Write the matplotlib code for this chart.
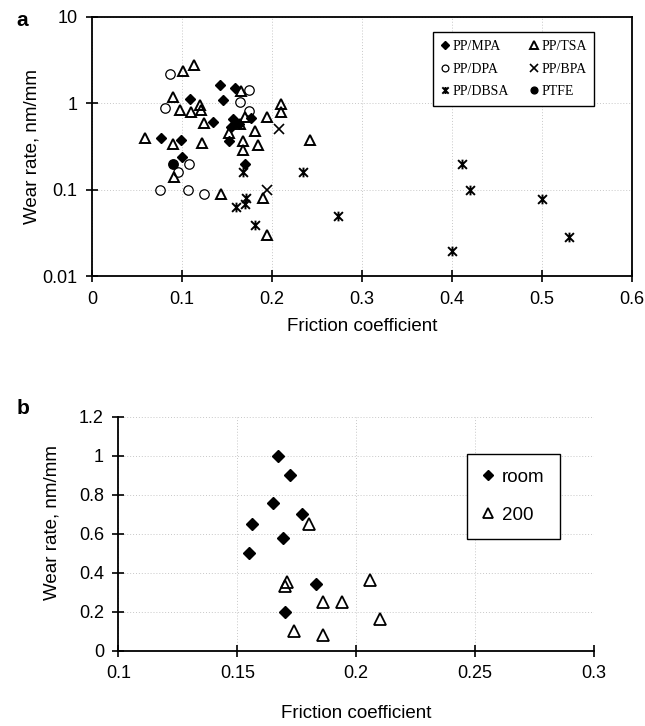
import matplotlib
matplotlib.use("Agg")
import matplotlib.pyplot as plt
from matplotlib.path import Path

# ---- panel a: wear rate vs friction coefficient, all compositions ----
mpa_x = [0.077, 0.0985, 0.100, 0.109, 0.135, 0.142, 0.146, 0.159, 0.152, 0.155, 0.157, 0.170, 0.163, 0.177]
mpa_y = [0.39, 0.37, 0.24, 1.11, 0.60, 1.62, 1.09, 1.51, 0.36, 0.53, 0.65, 0.20, 0.58, 0.68]

tsa_x = [0.101, 0.113, 0.090, 0.098, 0.110, 0.120, 0.121, 0.124, 0.059, 0.090, 0.122, 0.091, 0.143,
         0.166, 0.152, 0.164, 0.170, 0.168, 0.168, 0.181, 0.184, 0.194, 0.210, 0.210, 0.242, 0.190, 0.194]
tsa_y = [2.36, 2.77, 1.19, 0.83, 0.80, 0.95, 0.84, 0.59, 0.39, 0.34, 0.345, 0.14, 0.088,
         1.38, 0.45, 0.57, 0.70, 0.36, 0.29, 0.48, 0.33, 0.70, 0.98, 0.78, 0.37, 0.079, 0.030]

dpa_x = [0.087, 0.081, 0.164, 0.174, 0.175, 0.108, 0.096, 0.0756, 0.107, 0.124]
dpa_y = [2.2, 0.89, 1.02, 1.42, 0.81, 0.20, 0.16, 0.10, 0.10, 0.089]

bpa_x = [0.208, 0.194]
bpa_y = [0.50, 0.10]

dbsa_x = [0.168, 0.160, 0.171, 0.170, 0.181, 0.235, 0.273, 0.411, 0.420, 0.400, 0.500, 0.530]
dbsa_y = [0.16, 0.063, 0.079, 0.069, 0.039, 0.161, 0.049, 0.198, 0.099, 0.0196, 0.078, 0.0285]

ptfe_x = [0.0896]
ptfe_y = [0.20]

# ---- panel b: PP/MPA at room temperature vs 200 ----
room_x = [0.167, 0.172, 0.165, 0.177, 0.156, 0.169, 0.155, 0.170, 0.183]
room_y = [1.00, 0.90, 0.76, 0.70, 0.65, 0.58, 0.50, 0.20, 0.34]
hot_x = [0.180, 0.170, 0.171, 0.174, 0.186, 0.194, 0.206, 0.210, 0.186]
hot_y = [0.65, 0.33, 0.35, 0.10, 0.25, 0.25, 0.36, 0.16, 0.08]

sans = ["Liberation Sans", "DejaVu Sans"]
serif = ["Liberation Serif", "DejaVu Serif"]
plt.rcParams["font.family"] = sans

# excel-style asterisk: X with a vertical bar
star = Path([(-1, -1), (1, 1), (-1, 1), (1, -1), (0, -1.1), (0, 1.1)],
            [Path.MOVETO, Path.LINETO, Path.MOVETO, Path.LINETO, Path.MOVETO, Path.LINETO])

grid_kw = dict(color="#c8c8c8", linestyle=(0, (1, 2)), linewidth=0.7)

fig = plt.figure(figsize=(6.45, 7.26), dpi=100)

ax = fig.add_axes([0.1426, 0.6198, 0.8372, 0.3572])
ax.plot(mpa_x, mpa_y, ls="none", marker="D", ms=5.4, mfc="black", mec="black", label="PP/MPA")
ax.plot(dpa_x, dpa_y, ls="none", marker="o", ms=6.8, mfc="none", mec="black", mew=0.9, label="PP/DPA")
ax.plot(dbsa_x, dbsa_y, ls="none", marker=star, ms=7, mfc="none", mec="black", mew=1.4, label="PP/DBSA")
ax.plot(tsa_x, tsa_y, ls="none", marker="^", ms=7.5, mfc="none", mec="black", mew=1.4, label="PP/TSA")
ax.plot(bpa_x, bpa_y, ls="none", marker="x", ms=7.5, mec="black", mew=1.2, label="PP/BPA")
ax.plot(ptfe_x, ptfe_y, ls="none", marker="o", ms=6.8, mfc="black", mec="black", label="PTFE")
ax.set_yscale("log")
ax.set_xlim(0, 0.6)
ax.set_ylim(0.01, 10)
ax.set_xticks([0, 0.1, 0.2, 0.3, 0.4, 0.5, 0.6])
ax.set_xticklabels(["0", "0.1", "0.2", "0.3", "0.4", "0.5", "0.6"])
ax.set_yticks([0.01, 0.1, 1, 10])
ax.set_yticklabels(["0.01", "0.1", "1", "10"])
ax.minorticks_off()
ax.grid(True, **grid_kw)
ax.set_axisbelow(True)
for s in ax.spines.values():
    s.set_linewidth(1.3)
ax.tick_params(direction="inout", length=9, width=1.2, labelsize=13, pad=6)
ax.set_xlabel("Friction coefficient", fontsize=13.5)
ax.set_ylabel("Wear rate, nm/mm", fontsize=13.5)
ax.xaxis.set_label_coords(0.5, -0.16)
ax.yaxis.set_label_coords(-0.096, 0.5)
leg = ax.legend(ncol=2, loc="upper left", bbox_to_anchor=(0.631, 0.94), prop={"family": serif, "size": 10},
                frameon=True, fancybox=False, edgecolor="black", framealpha=1, markerscale=0.72,
                handlelength=0.6, handletextpad=0.25, columnspacing=1.5, labelspacing=0.7, borderpad=0.55,
                borderaxespad=0)
leg.get_frame().set_linewidth(1.0)

bx = fig.add_axes([0.1837, 0.1039, 0.7372, 0.3218])
bx.plot(room_x, room_y, ls="none", marker="D", ms=6, mfc="black", mec="black", label="room")
bx.plot(hot_x, hot_y, ls="none", marker="^", ms=8, mfc="none", mec="black", mew=1.3, label="200")
bx.set_xlim(0.1, 0.3)
bx.set_ylim(0, 1.2)
bx.set_xticks([0.1, 0.15, 0.2, 0.25, 0.3])
bx.set_xticklabels(["0.1", "0.15", "0.2", "0.25", "0.3"])
bx.set_yticks([0, 0.2, 0.4, 0.6, 0.8, 1.0, 1.2])
bx.set_yticklabels(["0", "0.2", "0.4", "0.6", "0.8", "1", "1.2"])
bx.grid(True, **grid_kw)
bx.set_axisbelow(True)
bx.spines["top"].set_visible(False)
bx.spines["right"].set_visible(False)
for s in ("left", "bottom"):
    bx.spines[s].set_linewidth(1.3)
bx.tick_params(direction="inout", length=9, width=1.2, labelsize=13, pad=6)
bx.set_xlabel("Friction coefficient", fontsize=13.5)
bx.set_ylabel("Wear rate, nm/mm", fontsize=13.5)
bx.xaxis.set_label_coords(0.5, -0.235)
bx.yaxis.set_label_coords(-0.123, 0.55)
leg2 = bx.legend(loc="upper left", bbox_to_anchor=(0.732, 0.842), fontsize=13.5, frameon=True, fancybox=False,
                 edgecolor="black", framealpha=1, handlelength=0.7, handletextpad=0.4, labelspacing=1.1,
                 borderpad=0.8, borderaxespad=0, markerscale=0.85)
leg2.get_frame().set_linewidth(1.0)

fig.text(0.025, 0.972, "a", fontsize=15, fontweight="bold", va="center")
fig.text(0.025, 0.437, "b", fontsize=15, fontweight="bold", va="center")

fig.savefig("out.png", dpi=100)
